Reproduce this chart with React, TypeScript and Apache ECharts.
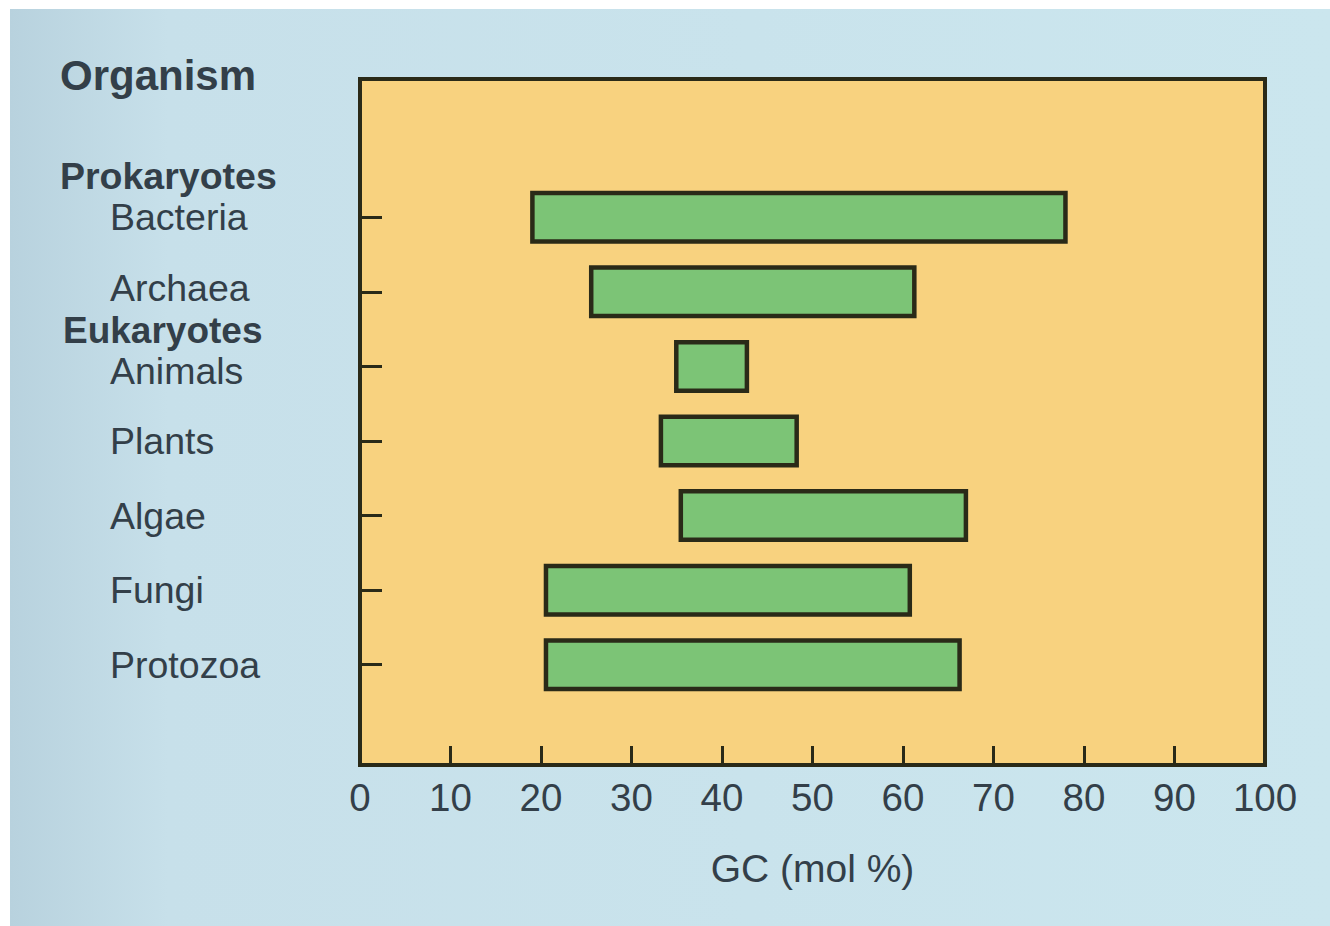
import React, { useEffect, useRef } from "react";
import * as echarts from "echarts";

const categories = ["Bacteria", "Archaea", "Animals", "Plants", "Algae", "Fungi", "Protozoa"];
const gcMin = [18.8, 25.3, 34.7, 33, 35.2, 20.3, 20.3];
const gcMax = [78.2, 61.5, 43, 48.5, 67.2, 61, 66.5];
const xTicks = [0, 10, 20, 30, 40, 50, 60, 70, 80, 90, 100];
const groupHeaders = [
  { text: "Organism", x: 60, y: 75, size: 42 },
  { text: "Prokaryotes", x: 60, y: 176, size: 37.5 },
  { text: "Eukaryotes", x: 63, y: 330, size: 37 },
];

const FONT = "'Liberation Sans', Arial, Helvetica, sans-serif";
const TEXT = "#333f49";
const DARK = "#2a2a18";

export default function App() {
  const ref = useRef<HTMLDivElement>(null);
  useEffect(() => {
    if (!ref.current) return;
    const chart = echarts.init(ref.current, undefined, { renderer: "svg" });
    const boxL = 360, boxT = 79, boxR = 1265, boxB = 765;
    const gridTop = 180, gridH = 522;
    const labelStyle = { fontSize: 37.5, color: TEXT, fontFamily: FONT };
    chart.setOption({
      animation: false,
      backgroundColor: "#ffffff",
      grid: { left: boxL, top: gridTop, width: boxR - boxL, height: gridH, containLabel: false },
      xAxis: {
        type: "value",
        min: xTicks[0],
        max: xTicks[xTicks.length - 1],
        interval: 10,
        position: "bottom",
        offset: boxB - (gridTop + gridH),
        axisLine: { show: false },
        axisTick: { show: true, inside: true, length: 19, lineStyle: { color: DARK, width: 3 } },
        splitLine: { show: false },
        axisLabel: { margin: 13, fontSize: 38.5, color: TEXT, fontFamily: FONT },
        name: "GC (mol %)",
        nameLocation: "middle",
        nameGap: 84,
        nameTextStyle: { fontSize: 39, color: TEXT, fontFamily: FONT },
      },
      yAxis: {
        type: "category",
        data: categories,
        inverse: true,
        axisLine: { show: false },
        axisTick: { show: true, inside: true, alignWithLabel: true, length: 22, lineStyle: { color: DARK, width: 3 } },
        axisLabel: {
          align: "left",
          margin: 250,
          ...labelStyle,
          formatter: (v: string) =>
            v === "Archaea" ? `{up|${v}}` : v === "Animals" ? `{down|${v}}` : v,
          rich: {
            up: { ...labelStyle, padding: [0, 0, 8, 0] },
            down: { ...labelStyle, padding: [9, 0, 0, 0] },
          },
        },
        splitLine: { show: false },
      },
      graphic: [
        {
          type: "rect",
          z: -10,
          shape: { x: 10, y: 9, width: 1320, height: 917 },
          style: {
            fill: new echarts.graphic.LinearGradient(0, 0, 1, 0, [
              { offset: 0, color: "#b8d2de" },
              { offset: 0.12, color: "#c7e0ea" },
              { offset: 1, color: "#cbe6ee" },
            ]),
          },
          silent: true,
        },
        {
          type: "rect",
          z: -5,
          shape: { x: boxL, y: boxT, width: boxR - boxL, height: boxB - boxT },
          style: { fill: "#f8d27f", stroke: DARK, lineWidth: 4 },
          silent: true,
        },
        ...groupHeaders.map((h) => ({
          type: "text",
          x: h.x,
          y: h.y,
          z: 10,
          style: {
            text: h.text,
            fontSize: h.size,
            fontWeight: "bold",
            fontFamily: FONT,
            fill: TEXT,
            verticalAlign: "middle",
            align: "left",
          },
        })),
      ],
      series: [
        {
          type: "bar",
          stack: "range",
          data: gcMin,
          barWidth: 53,
          itemStyle: { color: "transparent" },
          silent: true,
        },
        {
          type: "bar",
          stack: "range",
          data: gcMax.map((v, i) => v - gcMin[i]),
          barWidth: 53,
          itemStyle: { color: "#7cc476", borderColor: DARK, borderWidth: 4.5 },
        },
      ],
    });
    return () => chart.dispose();
  }, []);
  return (
    <div
      ref={ref}
      style={{ position: "absolute", left: 0, top: 0, width: 1330, height: 926 }}
    />
  );
}
